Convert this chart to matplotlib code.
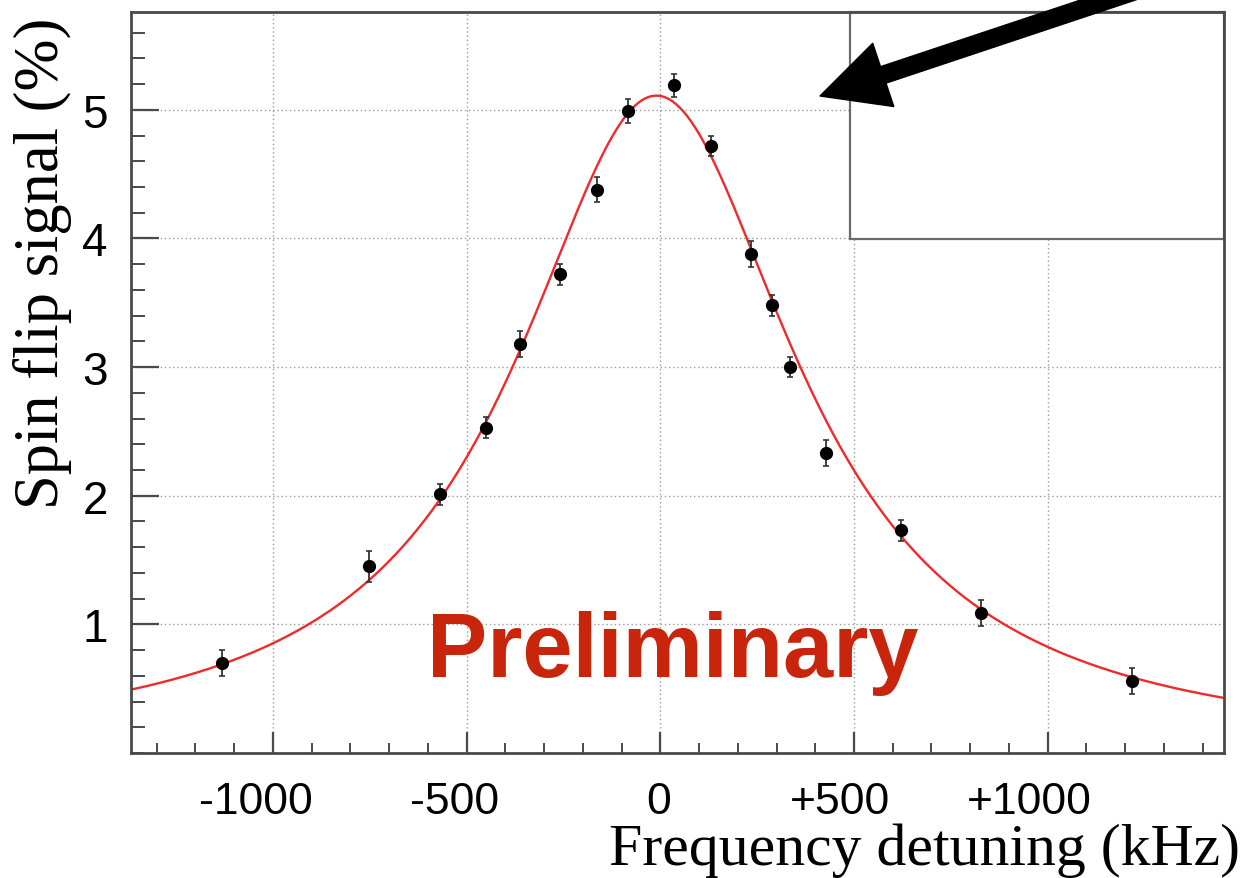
import numpy as np
import matplotlib as mpl
mpl.use("Agg")
import matplotlib.pyplot as plt
from matplotlib.patches import Rectangle
from matplotlib.ticker import MultipleLocator
from matplotlib.transforms import ScaledTranslation

# measured spin flip signal vs. frequency detuning
freq_khz = [-1132, -752, -569, -450, -363, -260, -164, -84, 35, 130,
            233, 288, 334, 427, 621, 828, 1217]
signal_pct = [0.70, 1.45, 2.01, 2.53, 3.18, 3.72, 4.38, 4.99, 5.19, 4.72,
              3.88, 3.48, 3.00, 2.33, 1.73, 1.09, 0.56]
signal_err = [0.10, 0.12, 0.08, 0.08, 0.10, 0.08, 0.10, 0.09, 0.09, 0.08,
              0.10, 0.08, 0.08, 0.10, 0.08, 0.10, 0.10]

# lorentzian fit: amplitude (%), centre (kHz), half width (kHz)
fit_amp = 5.11
fit_center = -10
fit_hwhm = 443

x_ticks = [-1000, -500, 0, 500, 1000]
x_tick_labels = ['-1000', '-500', '0', '+500', '+1000']
y_ticks = [1, 2, 3, 4, 5]

frame_col = '#4a4a4a'

fig = plt.figure(figsize=(12.45, 8.79), dpi=100)
ax = fig.add_axes([0.1056, 0.1422, 0.8775, 0.8430])
ax.set_xlim(-1365, 1455)
ax.set_ylim(0, 5.76)

# grid first so everything else sits on top of it
ax.set_xticks(x_ticks)
ax.set_yticks(y_ticks)
ax.xaxis.set_minor_locator(MultipleLocator(100))
ax.yaxis.set_minor_locator(MultipleLocator(0.2))
ax.grid(True, which='major', color='#9a9a9a', linestyle=(0, (1, 2)), linewidth=1.0)
ax.set_axisbelow(True)

xs = np.linspace(-1365, 1455, 600)
fit_curve = fit_amp / (1 + ((xs - fit_center) / fit_hwhm) ** 2)
ax.plot(xs, fit_curve, color='#ee2a2a', linewidth=1.7, zorder=3)

ax.errorbar(freq_khz, signal_pct, yerr=signal_err, fmt='o', color='black',
            ecolor='#333333', elinewidth=1.3, capsize=2.0, capthick=1.2,
            markersize=8.5, zorder=4)

# stats box in the upper right corner
ax.add_patch(Rectangle((0.658, 0.694), 0.342, 0.306, transform=ax.transAxes,
                       facecolor='white', edgecolor='#6a6a6a', linewidth=1.6,
                       zorder=5, clip_on=False))

for side in ['left', 'bottom', 'top', 'right']:
    ax.spines[side].set_color(frame_col)
    ax.spines[side].set_linewidth(2.0)
    ax.spines[side].set_zorder(6)

ax.tick_params(axis='x', which='major', direction='in', length=15, width=1.6,
               color=frame_col, pad=20, labelsize=32)
ax.tick_params(axis='x', which='minor', direction='in', length=7, width=1.4,
               color=frame_col)
ax.tick_params(axis='y', which='major', direction='in', length=20, width=1.6,
               color=frame_col, pad=17, labelsize=33)
ax.tick_params(axis='y', which='minor', direction='in', length=10, width=1.4,
               color=frame_col)

ax.set_xticklabels(x_tick_labels, family='Liberation Sans')
ax.set_yticklabels([str(v) for v in y_ticks], family='Liberation Sans')

# nudge the x tick labels a little to the left
label_shift_pt = [-12, -9, -1, -10, -13]
for lbl, dx in zip(ax.get_xticklabels(), label_shift_pt):
    lbl.set_transform(lbl.get_transform() + ScaledTranslation(dx / 72, 0, fig.dpi_scale_trans))

ax.set_xlabel('Frequency detuning (kHz)', family='Liberation Serif', fontsize=43,
              ha='right', va='baseline')
ax.xaxis.set_label_coords(1.0146, -0.1498)
ax.set_ylabel('Spin flip signal (%)', family='Liberation Serif', fontsize=45)
ax.yaxis.set_label_coords(-0.0545, 0.6626)

ax.text(0.4957, 0.1039, 'Preliminary', transform=ax.transAxes, ha='center',
        va='baseline', family='Liberation Sans', fontweight='bold', fontsize=65,
        color='#c9240c', zorder=7)

# big arrow pointing at the peak
ax.annotate('', xy=(820 / 1245, 1 - 97 / 879), xycoords='figure fraction',
            xytext=(1165 / 1245, 1 + 18 / 879), textcoords='figure fraction',
            arrowprops=dict(arrowstyle='simple,head_length=1.0,head_width=1.0,tail_width=0.26',
                            color='black', mutation_scale=48, shrinkA=0, shrinkB=0),
            annotation_clip=False, zorder=8)

fig.savefig('out.png', dpi=100)
